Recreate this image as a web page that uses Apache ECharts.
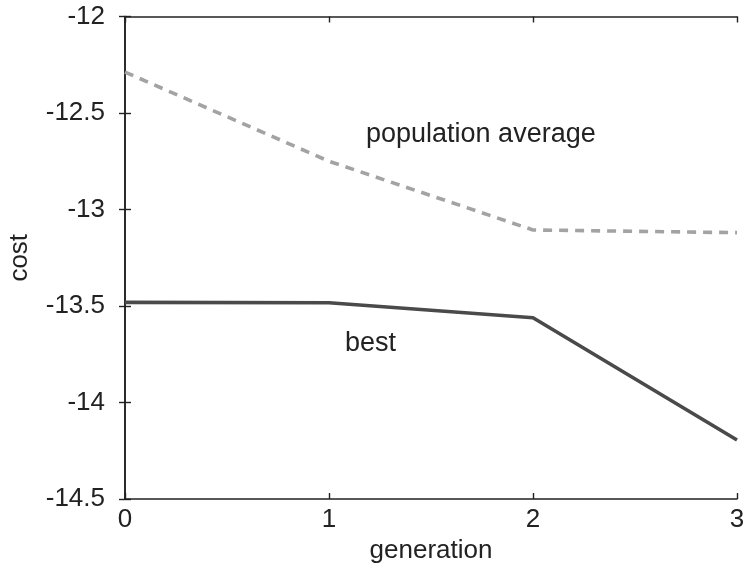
<!DOCTYPE html>
<html>
<head>
<meta charset="utf-8">
<script src="https://cdn.jsdelivr.net/npm/echarts@6/dist/echarts.min.js"></script>
<style>html,body{margin:0;padding:0;background:#fff;}#c{width:746px;height:563px;}</style>
</head>
<body>
<div id="c"></div>
<script>
const generations = [0, 1, 2, 3];
const populationAverage = [-12.288, -12.75, -13.106, -13.12];
const best = [-13.481, -13.483, -13.561, -14.194];
const yTicks = [-14.5, -14, -13.5, -13, -12.5, -12];

const FONT = '"Liberation Sans", Arial, Helvetica, sans-serif';
const chart = echarts.init(document.getElementById('c'));
const axisLine = { show: true, lineStyle: { color: '#222', width: 1.6 } };
const tick = { show: true, inside: true, length: 6, lineStyle: { color: '#222', width: 1.4 } };

chart.setOption({
  animation: false,
  backgroundColor: '#fff',
  grid: { left: 125, right: 9, top: 16.5, bottom: 64, containLabel: false, outerBoundsMode: 'none' },
  xAxis: [
    {
      type: 'value', min: 0, max: 3, interval: 1,
      name: 'generation', nameLocation: 'middle', nameGap: 32,
      nameTextStyle: { fontFamily: FONT, fontSize: 26, color: '#222' },
      axisLine: axisLine, axisTick: tick, splitLine: { show: false },
      axisLabel: { fontFamily: FONT, fontSize: 26, color: '#222', margin: 8 }
    },
    {
      type: 'value', min: 0, max: 3, interval: 1, position: 'top',
      axisLine: axisLine, axisTick: tick, splitLine: { show: false },
      axisLabel: { show: false }
    }
  ],
  yAxis: [
    {
      type: 'value', min: -14.5, max: -12, interval: 0.5,
      name: 'cost', nameLocation: 'middle', nameGap: 92, nameRotate: 90,
      nameTextStyle: { fontFamily: FONT, fontSize: 26, color: '#222' },
      axisLine: axisLine, axisTick: tick, splitLine: { show: false },
      axisLabel: { fontFamily: FONT, fontSize: 26, color: '#222', margin: 20 }
    },
    {
      type: 'value', min: -14.5, max: -12, interval: 0.5, position: 'right',
      axisLine: axisLine, axisTick: tick, splitLine: { show: false },
      axisLabel: { show: false }
    }
  ],
  series: [
    {
      type: 'line', name: 'population average',
      data: generations.map((g, i) => [g, populationAverage[i]]),
      showSymbol: false, symbol: 'none',
      lineStyle: { color: '#a3a3a3', width: 3.6, type: [9, 7] }
    },
    {
      type: 'line', name: 'best',
      data: generations.map((g, i) => [g, best[i]]),
      showSymbol: false, symbol: 'none',
      lineStyle: { color: '#4a4a4a', width: 3.6 }
    }
  ],
  graphic: [
    { type: 'text', left: 366, top: 121, style: { text: 'population average', font: '27px ' + FONT, fill: '#222' } },
    { type: 'text', left: 345, top: 330, style: { text: 'best', font: '27px ' + FONT, fill: '#222' } }
  ]
});
</script>
</body>
</html>
